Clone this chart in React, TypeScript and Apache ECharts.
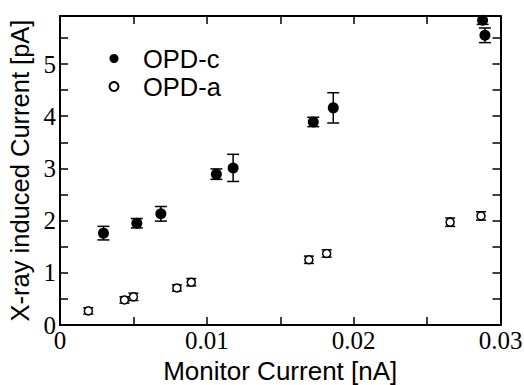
import React, { useEffect, useRef } from "react";
import * as echarts from "echarts";

const opdCX = [0.00296, 0.00523, 0.00687, 0.01065, 0.01179, 0.01725, 0.01861, 0.02878, 0.02894];
const opdCY = [1.76, 1.95, 2.13, 2.89, 3.01, 3.89, 4.16, 5.84, 5.55];
const opdCErr = [0.13, 0.09, 0.14, 0.1, 0.26, 0.09, 0.29, 0.08, 0.14];

const opdAX = [0.00193, 0.00439, 0.005, 0.00796, 0.00894, 0.01695, 0.01816, 0.02657, 0.02867];
const opdAY = [0.27, 0.48, 0.54, 0.71, 0.82, 1.25, 1.37, 1.97, 2.09];
const opdAErr = [0.06, 0.06, 0.07, 0.06, 0.07, 0.07, 0.07, 0.08, 0.08];

const xTitle = "Monitor Current [nA]";
const yTitle = "X-ray induced Current [pA]";

function errRender(capW: number) {
  return (params: any, api: any) => {
    const x = api.value(0);
    const y = api.value(1);
    const e = api.value(2);
    const t = api.coord([x, y + e]);
    const b = api.coord([x, y - e]);
    const st = { stroke: "#000", lineWidth: 1.5, fill: null };
    const h = capW / 2;
    return {
      type: "group",
      children: [
        { type: "line", shape: { x1: t[0], y1: t[1], x2: b[0], y2: b[1] }, style: st },
        { type: "line", shape: { x1: t[0] - h, y1: t[1], x2: t[0] + h, y2: t[1] }, style: st },
        { type: "line", shape: { x1: b[0] - h, y1: b[1], x2: b[0] + h, y2: b[1] }, style: st },
      ],
    };
  };
}

export default function App() {
  const ref = useRef<HTMLDivElement>(null);
  useEffect(() => {
    if (!ref.current) return;
    const chart = echarts.init(ref.current, null, { renderer: "svg" });
    const axisLine = { show: true, onZero: false, lineStyle: { color: "#000", width: 2 } };
    const axisTick = { show: true, inside: true, length: 8, lineStyle: { color: "#000", width: 1.5 } };
    const minorTick = { show: true, splitNumber: 2, length: 8, lineStyle: { color: "#000", width: 1.5 } };
    const serifFont = "'Liberation Serif', 'Times New Roman', Times, serif";
    const sansFont = "'Liberation Sans', Arial, sans-serif";
    const serif = { fontFamily: serifFont, fontSize: 25, color: "#000" };
    const sans = { fontFamily: sansFont, fontSize: 26, color: "#000" };
    const option: any = {
      animation: false,
      backgroundColor: "#fff",
      grid: { left: 60, right: 23.5, top: 16, bottom: 60, containLabel: false, outerBoundsMode: "none" },
      legend: {
        orient: "vertical",
        left: 108.5,
        top: 45.5,
        padding: 0,
        itemGap: 2,
        itemWidth: 9,
        itemHeight: 9,
        icon: "circle",
        data: ["OPD-c", "OPD-a"],
        textStyle: { ...sans, fontSize: 25.5, lineHeight: 25, padding: [0, 0, 0, 19.5] },
      },
      xAxis: [
        {
          type: "value",
          min: 0,
          max: 0.03,
          interval: 0.01,
          position: "bottom",
          axisLine,
          axisTick,
          minorTick,
          splitLine: { show: false },
          axisLabel: { ...serif, margin: 3, formatter: (v: number) => (v === 0 ? "0" : String(+v.toFixed(3))) },
          name: xTitle,
          nameLocation: "middle",
          nameGap: 31,
          nameTextStyle: sans,
        },
        {
          type: "value",
          min: 0,
          max: 0.03,
          interval: 0.01,
          position: "top",
          axisLine,
          axisTick,
          minorTick,
          splitLine: { show: false },
          axisLabel: { show: false },
        },
      ],
      yAxis: [
        {
          type: "value",
          min: 0,
          max: 5.92,
          interval: 1,
          position: "left",
          axisLine,
          axisTick,
          minorTick,
          splitLine: { show: false },
          axisLabel: { ...serif, margin: 4, showMaxLabel: false },
          name: yTitle,
          nameLocation: "middle",
          nameGap: 18,
          nameTextStyle: { ...sans, fontSize: 25.5 },
        },
        {
          type: "value",
          min: 0,
          max: 5.92,
          interval: 1,
          position: "right",
          axisLine,
          axisTick,
          minorTick,
          splitLine: { show: false },
          axisLabel: { show: false },
        },
      ],
      series: [
        {
          name: "errC",
          type: "custom",
          renderItem: errRender(12),
          data: opdCX.map((x, i) => [x, opdCY[i], opdCErr[i]]),
          encode: { x: 0, y: 1 },
          clip: true,
          z: 2,
        },
        {
          name: "errA",
          type: "custom",
          renderItem: errRender(10),
          data: opdAX.map((x, i) => [x, opdAY[i], opdAErr[i]]),
          encode: { x: 0, y: 1 },
          clip: true,
          z: 2,
        },
        {
          name: "OPD-c",
          type: "scatter",
          symbol: "circle",
          symbolSize: 11,
          itemStyle: { color: "#000", opacity: 1 },
          data: opdCX.map((x, i) => [x, opdCY[i]]),
          clip: true,
          z: 3,
        },
        {
          name: "OPD-a",
          type: "scatter",
          symbol: "circle",
          symbolSize: 8,
          itemStyle: { color: "#fff", borderColor: "#000", borderWidth: 1.5, opacity: 1 },
          data: opdAX.map((x, i) => [x, opdAY[i]]),
          clip: true,
          z: 3,
        },
      ],
    };
    chart.setOption(option);
    return () => chart.dispose();
  }, []);
  return (
    <div
      ref={ref}
      style={{ position: "absolute", left: 0, top: 0, width: 524, height: 385, background: "#fff" }}
    />
  );
}
